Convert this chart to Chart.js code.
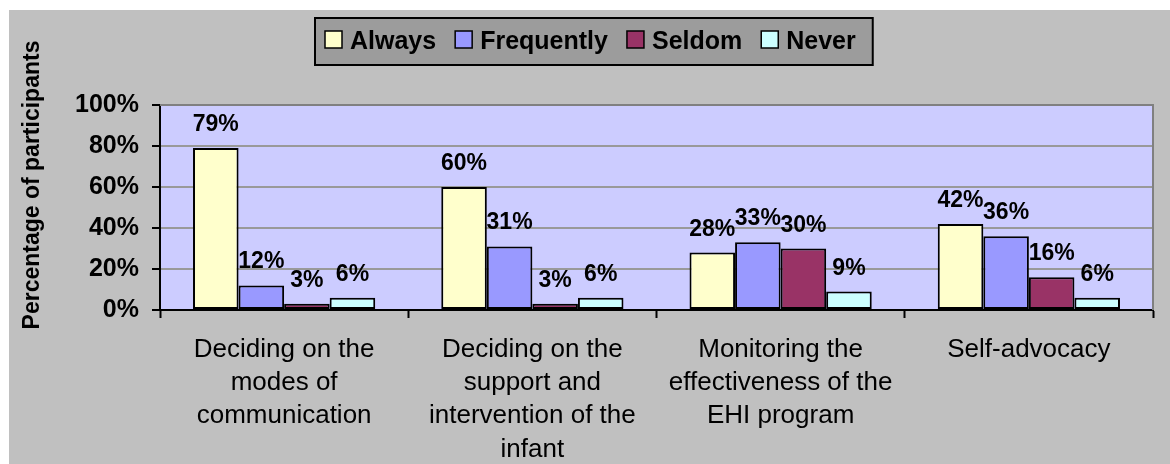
<!DOCTYPE html>
<html>
<head>
<meta charset="utf-8">
<title>Percentage of participants</title>
<script src="https://cdn.jsdelivr.net/npm/chart.js@4.4.1/dist/chart.umd.min.js"></script>
<style>
  html, body { margin: 0; padding: 0; background: #ffffff; }
  #wrap { width: 1170px; height: 464px; }
</style>
</head>
<body>
<div id="wrap"><canvas id="barChart" width="1170" height="464"></canvas></div>
<script>
/* ======= DATA ======= */
const CATEGORIES = [
  ['Deciding on the', 'modes of', 'communication'],
  ['Deciding on the', 'support and', 'intervention of the', 'infant'],
  ['Monitoring the', 'effectiveness of the', 'EHI program'],
  ['Self-advocacy']
];
const SERIES_NAMES = ['Always', 'Frequently', 'Seldom', 'Never'];
const ALWAYS = [79, 60, 28, 42];
const FREQUENTLY = [12, 31, 33, 36];
const SELDOM = [3, 3, 30, 16];
const NEVER = [6, 6, 9, 6];
const SERIES_COLORS = ['#FFFFCC', '#9999FF', '#993366', '#CCFFFF'];
const Y_TICKS = [0, 20, 40, 60, 80, 100];
const Y_TITLE = 'Percentage of participants';

const FONT = "'Liberation Sans', Arial, sans-serif";

/* ======= PLUGINS ======= */
// grey page + lavender plot area, like the old Excel look
const backdrop = {
  id: 'backdrop',
  beforeDraw(chart) {
    const { ctx, chartArea: a } = chart;
    ctx.save();
    ctx.fillStyle = '#ffffff';
    ctx.fillRect(0, 0, chart.width, chart.height);
    ctx.fillStyle = '#C0C0C0';
    ctx.fillRect(9, 10, chart.width - 9, chart.height - 10);
    ctx.fillStyle = '#CCCCFF';
    ctx.fillRect(a.left, a.top, a.right - a.left, a.bottom - a.top);
    ctx.restore();
  }
};

const plotFrame = {
  id: 'plotFrame',
  beforeDatasetsDraw(chart) {
    const { ctx, chartArea: a } = chart;
    ctx.save();
    ctx.strokeStyle = '#808080';
    ctx.lineWidth = 2;
    ctx.beginPath();
    ctx.moveTo(a.left, a.top);
    ctx.lineTo(a.right, a.top);
    ctx.lineTo(a.right, a.bottom);
    ctx.stroke();
    ctx.restore();
  }
};

// value labels over every bar
const valueLabels = {
  id: 'valueLabels',
  afterDatasetsDraw(chart) {
    const { ctx } = chart;
    ctx.save();
    ctx.font = `bold 23px ${FONT}`;
    ctx.fillStyle = '#000';
    ctx.textAlign = 'center';
    ctx.textBaseline = 'alphabetic';
    chart.data.datasets.forEach((ds, i) => {
      chart.getDatasetMeta(i).data.forEach((bar, j) => {
        ctx.fillText(ds.data[j] + '%', bar.x, bar.y - 17);
      });
    });
    ctx.restore();
  }
};

// boxed legend at the top
const boxedLegend = {
  id: 'boxedLegend',
  afterDraw(chart) {
    const { ctx } = chart;
    ctx.save();
    ctx.font = `bold 25px ${FONT}`;
    const items = chart.data.datasets.map(ds => ({
      label: ds.label, color: ds.backgroundColor, w: ctx.measureText(ds.label).width
    }));
    const sw = 17, gapText = 8, gapItem = 19;
    const inner = items.reduce((s, it) => s + sw + gapText + it.w, 0) + gapItem * (items.length - 1);
    const boxL = 315, boxT = 18, boxH = 47;
    const boxW = inner + 10 + 17;
    ctx.fillStyle = '#9C9C9C';
    ctx.fillRect(boxL, boxT, boxW, boxH);
    ctx.strokeStyle = '#000';
    ctx.lineWidth = 2;
    ctx.strokeRect(boxL, boxT, boxW, boxH);

    let x = boxL + 10;
    ctx.textBaseline = 'alphabetic';
    ctx.textAlign = 'left';
    items.forEach(it => {
      ctx.fillStyle = it.color;
      ctx.fillRect(x, 31, sw, sw);
      ctx.lineWidth = 1.5;
      ctx.strokeRect(x, 31, sw, sw);
      ctx.fillStyle = '#000';
      ctx.fillText(it.label, x + sw + gapText, 49);
      x += sw + gapText + it.w + gapItem;
    });
    ctx.restore();
  }
};

const yTitle = {
  id: 'yTitle',
  afterDraw(chart) {
    const { ctx } = chart;
    ctx.save();
    ctx.translate(33, 185);
    ctx.rotate(-Math.PI / 2);
    ctx.font = `bold 23px ${FONT}`;
    ctx.fillStyle = '#000';
    ctx.textAlign = 'center';
    ctx.textBaseline = 'middle';
    ctx.fillText(Y_TITLE, 0, 0);
    ctx.restore();
  }
};

/* ======= CHART ======= */
const seriesValues = [ALWAYS, FREQUENTLY, SELDOM, NEVER];

new Chart(document.getElementById('barChart').getContext('2d'), {
  type: 'bar',
  data: {
    labels: CATEGORIES,
    datasets: SERIES_NAMES.map((name, i) => ({
      label: name,
      data: seriesValues[i],
      backgroundColor: SERIES_COLORS[i],
      borderColor: '#000',
      borderWidth: 2,
      borderSkipped: false,
      categoryPercentage: 0.734,
      barPercentage: 1
    }))
  },
  options: {
    responsive: false,
    animation: false,
    layout: { padding: { left: 0, top: 105, right: 17, bottom: 0 } },
    plugins: {
      legend: { display: false },
      tooltip: { enabled: false }
    },
    scales: {
      x: {
        afterFit: s => { s.height = 154; },
        grid: { drawOnChartArea: false, offset: true, tickLength: 8, tickColor: '#000', tickWidth: 2 },
        border: { color: '#000', width: 2 },
        ticks: {
          color: '#000', maxRotation: 0, autoSkip: false, padding: 15,
          font: { family: FONT, size: 26, lineHeight: 1.28 }
        }
      },
      y: {
        min: 0, max: 100,
        afterFit: s => { s.width = 160; },
        afterBuildTicks: s => { s.ticks = Y_TICKS.map(v => ({ value: v })); },
        grid: { color: '#999999', lineWidth: 2, tickLength: 8, tickColor: '#000', tickWidth: 2 },
        border: { color: '#000', width: 2 },
        ticks: {
          color: '#000', padding: 13,
          font: { family: FONT, size: 25, weight: 'bold' },
          callback: v => v + '%'
        }
      }
    }
  },
  plugins: [backdrop, plotFrame, valueLabels, boxedLegend, yTitle]
});
</script>
</body>
</html>
